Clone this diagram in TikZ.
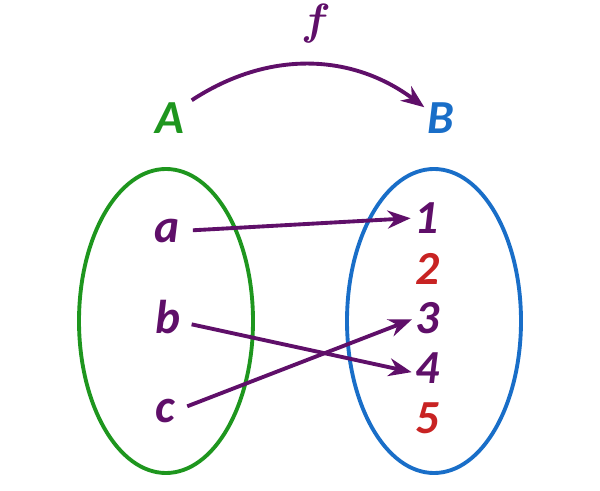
\documentclass[tikz,border=0pt]{standalone}
\usepackage{fontspec}
\setmainfont{Carlito}
\usetikzlibrary{arrows.meta,shapes.geometric}
\definecolor{setgreen}{RGB}{30,150,30}
\definecolor{setblue}{RGB}{25,110,200}
\definecolor{mapurple}{RGB}{95,15,105}
\definecolor{unred}{RGB}{200,35,35}

\begin{document}
\begin{tikzpicture}[
x=0.2mm,y=0.2mm,
every node/.style={inner sep=0pt,font=\fontsize{27}{32}\selectfont\bfseries\itshape},
setshape/.style={draw,ellipse,line width=2.2pt,minimum width=34.8mm,minimum height=60.8mm},
elem/.style={text=mapurple},
free/.style={text=unred},
maparrow/.style={-{Stealth[length=4.6mm,width=3.6mm]},line width=2.2pt,draw=mapurple},
>=Stealth]
\useasboundingbox (0,0) rectangle (600,490);
\node (setA) [setshape,draw=setgreen] at (166,169) {};
\node (setB) [setshape,draw=setblue] at (434,169) {};
\node (A) [text=setgreen] at (170,372) {A};
\node (B) [text=setblue] at (441,372) {B};
\node (f) [elem,font=\fontsize{26}{30}\selectfont\boldmath] at (316,466) {$f$};
\node (a) [elem] at (167,259) {a};
\node (b) [elem] at (168,173) {b};
\node (c) [elem] at (165,79) {c};
\node (one) [elem] at (427,272) {1};
\node (two) [free] at (428,221) {2};
\node (three) [elem] at (428,172) {3};
\node (four) [elem] at (428,122) {4};
\node (five) [free] at (428,72) {5};
\draw[maparrow] ([xshift=1.4mm,yshift=0.4mm]A.north east) to[bend left=35] ([xshift=-0.6mm,yshift=-1mm]B.north west);
\draw[maparrow,shorten <=2.6mm,shorten >=0.8mm] (a.east) -- (one.west);
\draw[maparrow,shorten <=2.2mm,shorten >=0.8mm] ([yshift=-1mm]b.east) -- ([yshift=-1mm]four.west);
\draw[maparrow,shorten <=2.6mm,shorten >=0.8mm] (c.east) -- (three.west);
\end{tikzpicture}
\end{document}
